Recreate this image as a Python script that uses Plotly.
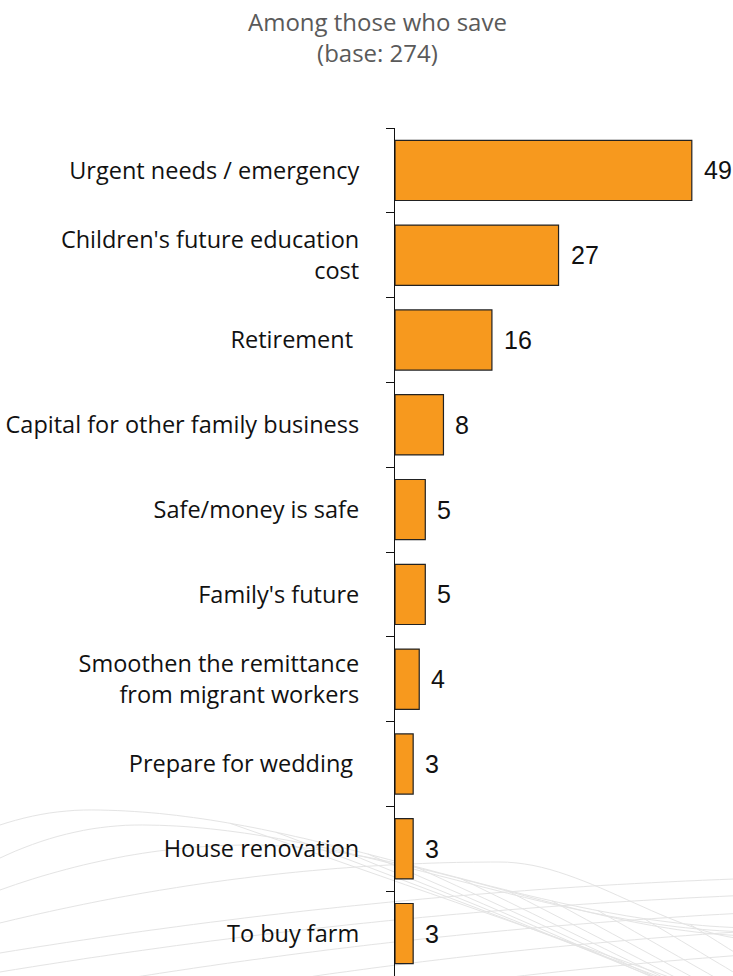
import numpy as np
import plotly.graph_objects as go

# Reasons for saving (% of savers)
categories = [
    "Urgent needs / emergency",
    "Children's future education<br>cost",
    "Retirement&nbsp;",
    "Capital for other family business",
    "Safe/money is safe",
    "Family's future",
    "Smoothen the remittance<br>from migrant workers",
    "Prepare for wedding&nbsp;",
    "House renovation",
    "To buy farm",
]
values = [49, 27, 16, 8, 5, 5, 4, 3, 3, 3]

title_lines = ["Among those who save", "(base: 274)"]

W, H = 733, 976
ML, MT = 395, 128
PW, PH = W - ML, H - MT

BAR = "#F7991E"
FONT = "Open Sans"
MESH = "#e4e4e4"


def to_paper(px, py):
    return (px - ML) / PW, (H - py) / PH


def polyline(pts):
    return "M " + " L ".join(f"{a:.4f},{b:.4f}" for a, b in (to_paper(x, y) for x, y in pts))


# Faint wire-mesh decoration in the lower part of the page:
# (left end, crest x, crest y, right end) for each curved strand
strands = [
    (825, 90, 810, 928),
    (858, 140, 825, 932),
    (890, 250, 845, 936),
    (923, 500, 862, 940),
    (953, 950, 875, None),
    (972, 1000, 890, None),
    (1000, 1050, 905, None),
    (1030, 1100, 920, None),
    (1060, 1150, 940, None),
]


def strand_y(x, s):
    l, c, t, r = s
    if x <= c:
        f = (c - x) / c
        return t + (l - t) * f * f
    f = min((x - c) / (760 - c), 1.0)
    f = f * f * (3 - 2 * f)
    return t + (r - t) * f


mesh_shapes = []
xs = np.linspace(-10, 745, 90)
for s in strands:
    pts = [(x, strand_y(x, s)) for x in xs]
    mesh_shapes.append(dict(type="path", path=polyline(pts), xref="paper", yref="paper",
                            line=dict(color=MESH, width=1), layer="below"))

# cross strands running down to the right
for x0 in np.arange(230, 760, 46):
    y0 = strand_y(x0, strands[0])
    slope = 0.35 + 0.0006 * (x0 - 230)
    x1 = x0 + (990 - y0) / slope
    pts = [(x, y0 + slope * (x - x0)) for x in np.linspace(x0, x1, 20)]
    mesh_shapes.append(dict(type="path", path=polyline(pts), xref="paper", yref="paper",
                            line=dict(color=MESH, width=1), layer="below"))

fig = go.Figure(
    go.Bar(
        x=values,
        y=categories,
        orientation="h",
        marker=dict(color=BAR, line=dict(color="#222222", width=1.2)),
        width=0.71,
        hoverinfo="skip",
    )
)

annotations = [
    dict(x=v, y=c, text=str(v), xref="x", yref="y", showarrow=False,
         xanchor="left", xshift=10, font=dict(family="Liberation Sans", size=25, color="#111111"))
    for c, v in zip(categories, values)
]
annotations.append(
    dict(x=(377 - ML) / PW, y=(H - 37) / PH, xref="paper", yref="paper",
         text="<br>".join(title_lines), showarrow=False, xanchor="center", yanchor="middle",
         font=dict(family=FONT, size=24, color="#5a5a5a"))
)

fig.update_layout(
    width=W,
    height=H,
    margin=dict(l=ML, r=0, t=MT, b=0, pad=0),
    paper_bgcolor="white",
    plot_bgcolor="rgba(0,0,0,0)",
    showlegend=False,
    bargap=0.29,
    annotations=annotations,
    shapes=mesh_shapes,
    xaxis=dict(range=[0, 55.8], visible=False, fixedrange=True),
    yaxis=dict(
        autorange="reversed",
        showline=True,
        linecolor="#111111",
        linewidth=1.2,
        ticks="outside",
        tickson="boundaries",
        ticklen=8,
        tickcolor="#111111",
        tickwidth=1.2,
        ticklabelstandoff=30,
        showgrid=False,
        tickfont=dict(family=FONT, size=23.5, color="#111111"),
        fixedrange=True,
    ),
)

fig.write_html("out.html", config={"displayModeBar": False})
